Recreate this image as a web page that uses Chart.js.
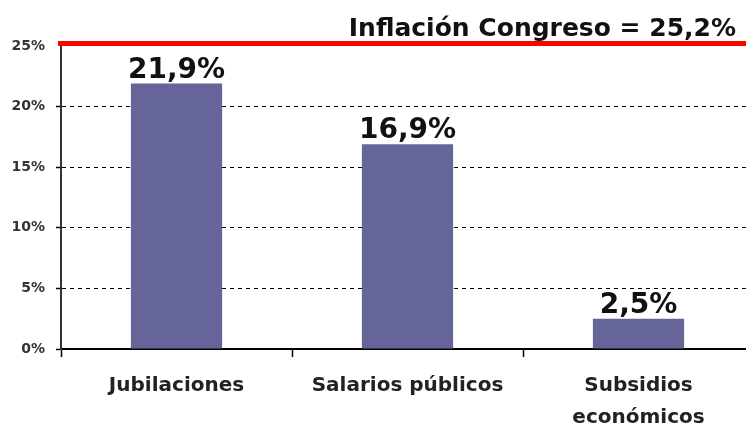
<!DOCTYPE html>
<html>
<head>
<meta charset="utf-8">
<script src="https://cdn.jsdelivr.net/npm/chart.js@4"></script>
<style>
  html, body { margin: 0; padding: 0; background: #fff; overflow: hidden; }
  #wrap { width: 760px; height: 425px; }
</style>
</head>
<body>
<div id="wrap"><canvas id="chart"></canvas></div>
<script>
// ===== 資料 =====
const categories = ["Jubilaciones", "Salarios públicos", ["Subsidios", "económicos"]];
const values = [21.9, 16.9, 2.5];
const yTicks = [0, 5, 10, 15, 20, 25];
const inflation = 25.2;
const inflationLabel = "Inflación Congreso = 25,2%";

const fmt = v => v.toFixed(1).replace(".", ",") + "%";

// ===== 紅線 + 標籤 =====
const extras = {
  id: "extras",
  afterDatasetsDraw(chart) {
    const { ctx, scales: { x, y }, width } = chart;
    const meta = chart.getDatasetMeta(0);
    ctx.save();
    // bar value labels
    ctx.font = "bold 28px 'DejaVu Sans'";
    ctx.fillStyle = "#111";
    ctx.textAlign = "center";
    ctx.textBaseline = "alphabetic";
    meta.data.forEach((bar, i) => {
      ctx.fillText(fmt(values[i]), bar.x, bar.y - 6);
    });
    // inflation line
    const ly = y.getPixelForValue(inflation);
    ctx.strokeStyle = "#ff0000";
    ctx.lineWidth = 5;
    ctx.beginPath();
    ctx.moveTo(x.left - 3, ly);
    ctx.lineTo(width, ly);
    ctx.stroke();
    ctx.font = "bold 25px 'DejaVu Sans'";
    ctx.textAlign = "right";
    ctx.fillStyle = "#111";
    ctx.fillText(inflationLabel, width - 24, ly - 8);
    ctx.restore();
  }
};

new Chart(document.getElementById("chart"), {
  type: "bar",
  data: {
    labels: categories,
    datasets: [{
      data: values,
      backgroundColor: "#65659a",
      barPercentage: 0.395,
      categoryPercentage: 1
    }]
  },
  options: {
    responsive: true,
    maintainAspectRatio: false,
    animation: false,
    layout: { padding: { top: 46, right: 6 } },
    plugins: { legend: { display: false }, tooltip: { enabled: false } },
    scales: {
      x: {
        afterFit: s => { s.height = 76; },
        grid: {
          drawOnChartArea: false,
          tickLength: 8,
          tickColor: "#000",
          tickWidth: 1.5
        },
        border: { color: "#000", width: 2 },
        ticks: {
          color: "#222",
          padding: 13,
          font: { family: "DejaVu Sans", weight: "bold", size: 20, lineHeight: 1.6 }
        }
      },
      y: {
        min: 0,
        max: 25,
        afterFit: s => { s.width = 61; },
        afterBuildTicks: s => { s.ticks = yTicks.map(v => ({ value: v })); },
        grid: {
          color: c => (c.tick && (c.tick.value === 0 || c.tick.value === 25)) ? "rgba(0,0,0,0)" : "#000",
          lineWidth: 1,
          tickLength: 5,
          tickColor: c => (c.tick && c.tick.value === 25) ? "rgba(0,0,0,0)" : "#000",
          tickWidth: 1.5
        },
        border: { color: "#333", width: 2, dash: [4, 4] },
        ticks: {
          color: "#333",
          padding: 11,
          font: { family: "DejaVu Sans", weight: "bold", size: 14 },
          callback: v => v + "%"
        }
      }
    }
  },
  plugins: [extras]
});
</script>
</body>
</html>
